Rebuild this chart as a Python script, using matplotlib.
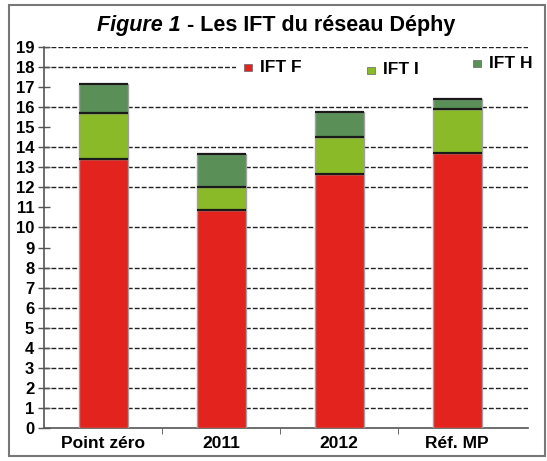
import matplotlib
matplotlib.use("Agg")
import matplotlib.pyplot as plt
from matplotlib.patches import Rectangle
import numpy as np

plt.rcParams['font.family'] = ['Liberation Sans', 'DejaVu Sans']

categories = ["Point zéro", "2011", "2012", "Réf. MP"]
ift_f = [13.4, 10.85, 12.65, 13.7]
ift_i = [2.3, 1.18, 1.88, 2.2]
ift_h = [1.47, 1.62, 1.22, 0.5]
series_names = ["IFT F", "IFT I", "IFT H"]
yticks = list(range(0, 20))
grid_levels = [1, 2, 3, 4, 5, 6, 7, 8, 10, 12, 13, 14, 16, 18, 19]

colors = ["#E3231D", "#8BBA28", "#5A8F57"]

fig = plt.figure(figsize=(5.47, 4.61), dpi=100)
ax = fig.add_axes([44/547, 1-428/461, (528-44)/547, (428-47)/461])

x = np.arange(len(categories))
w = 0.415
bottom = np.zeros(len(categories))
for vals, c in zip([ift_f, ift_i, ift_h], colors):
    ax.bar(x, vals, w, bottom=bottom, color=c, edgecolor="#a0a0a0", linewidth=1.0, zorder=3)
    bottom = bottom + np.array(vals)
    ax.hlines(bottom, x - w/2, x + w/2, color="#1a1a1a", linewidth=1.6, zorder=4)

for g in grid_levels:
    ax.axhline(g, color="#222222", linestyle=(0, (3.5, 1.5)), linewidth=1.0, zorder=1)

ax.set_xlim(-0.5, 3.6)
ax.set_ylim(0, 19)
ax.set_yticks(yticks)
ax.set_yticklabels([str(v) for v in yticks], fontsize=12, fontweight="bold")
ax.set_xticks(x)
ax.set_xticklabels(categories, fontsize=12.5, fontweight="bold")
ax.tick_params(axis="x", length=0, pad=6)
ax.set_xticks([0.5, 1.5, 2.5], minor=True)
ax.tick_params(axis="x", which="minor", length=4, direction="out", color="#555555")
ax.tick_params(axis="y", length=8, direction="inout", pad=3, color="#555555", width=1)
for s in ["top", "right"]:
    ax.spines[s].set_visible(False)
ax.spines["left"].set_color("#555555")
ax.spines["bottom"].set_color("#555555")
ax.spines["left"].set_linewidth(1.2)
ax.spines["bottom"].set_linewidth(1.2)

# legend background (hides gridline)
fig.patches.append(Rectangle((236/547, 1-80/461), (532-236)/547, 24/461, transform=fig.transFigure,
                             facecolor="white", edgecolor="none", zorder=5))
leg_pos = [(248/547, 1-67/461), (371/547, 1-70/461), (477/547, 1-63/461)]
for (lx, ly), c, name in zip(leg_pos, colors, series_names):
    fig.patches.append(Rectangle((lx - 0.008, ly - 0.008), 0.015, 0.015, transform=fig.transFigure,
                                 facecolor=c, edgecolor="#666666", linewidth=0.5, zorder=6))
    fig.text(lx + 0.022, ly, name, fontsize=12.5, fontweight="bold", va="center", ha="left", zorder=7)

# title
fig.canvas.draw()
r = fig.canvas.get_renderer()
t1 = fig.text(97/547, 1-25/461, "Figure 1", fontsize=15.5, fontweight="bold", style="italic", va="center", ha="left")
bb = t1.get_window_extent(renderer=r)
fig.text(bb.x1 / fig.bbox.width, 1-25/461, " - Les IFT du réseau Déphy", fontsize=15.5, fontweight="bold", va="center", ha="left")

# frame
fig.patches.append(Rectangle((9/547, 1-456/461), (545-9)/547, (456-5)/461, transform=fig.transFigure,
                             fill=False, edgecolor="#777777", linewidth=1.5))

fig.savefig("out.png", dpi=100)
